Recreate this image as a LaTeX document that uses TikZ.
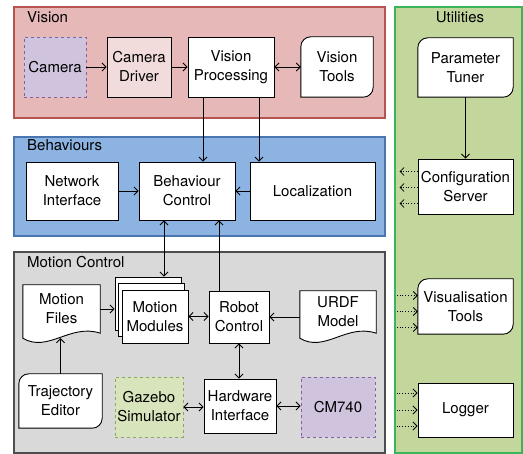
\documentclass[tikz,border=0pt]{standalone}
\usepackage{fontspec}
\setmainfont{TeX Gyre Heros}
\usetikzlibrary{shadows,arrows.meta}
\pgfdeclarelayer{bg}
\pgfdeclarelayer{mid}
\pgfsetlayers{bg,mid,main}
\definecolor{visionfill}{HTML}{E6B8B7}
\definecolor{visionline}{HTML}{B85450}
\definecolor{behavfill}{HTML}{8DB3E2}
\definecolor{behavline}{HTML}{4A76B0}
\definecolor{motionfill}{HTML}{D9D9D9}
\definecolor{motionline}{HTML}{4D4D4D}
\definecolor{utilfill}{HTML}{C3D69B}
\definecolor{utilline}{HTML}{3CB55A}
\definecolor{camfill}{HTML}{CFC3DD}
\definecolor{camline}{HTML}{8064A2}
\definecolor{driverfill}{HTML}{F2DCDB}
\definecolor{gazfill}{HTML}{D8E4BC}
\definecolor{gazline}{HTML}{8AA860}
\begin{document}
\begin{tikzpicture}
[x=1pt,y=-1pt,
 font=\fontsize{15}{19}\selectfont,
 >={Straight Barb[length=4pt,width=8pt]},
 panelstyle/.style={line width=1.2pt},
 boxstyle/.style={draw,fill=white,line width=0.9pt,align=center,inner sep=1pt},
 textstyle/.style={align=center,inner sep=1pt},
 hwstyle/.style={boxstyle,dashed},
 linestyle/.style={line width=0.9pt},
 arrowstyle/.style={line width=0.9pt,->},
 bothstyle/.style={line width=0.9pt,<->},
 dotstyle/.style={line width=0.8pt,dotted,->}]
\useasboundingbox (0,0) rectangle (523,454);
%% panels
\begin{pgfonlayer}{bg}
\draw[panelstyle,draw=visionline,fill=visionfill] (14,7) rectangle (385,118);
\draw[panelstyle,draw=behavline,fill=behavfill] (14,137) rectangle (385,236);
\draw[panelstyle,draw=motionline,fill=motionfill] (14,252) rectangle (385,453);
\draw[panelstyle,draw=utilline,fill=utilfill] (395,7) rectangle (522,453);
\end{pgfonlayer}
\node[anchor=west,inner sep=1pt] (visionlbl) at (26,17) {Vision};
\node[anchor=west,inner sep=1pt] (behavlbl) at (26,145) {Behaviours};
\node[anchor=west,inner sep=1pt] (motionlbl) at (26,262) {Motion Control};
\node[inner sep=1pt] (utillbl) at (460,17) {Utilities};
%% vision
\node[hwstyle,draw=camline,fill=camfill,minimum width=62pt,minimum height=60pt] (camera) at (55,67) {Camera};
\node[boxstyle,fill=driverfill,minimum width=64pt,minimum height=60pt] (driver) at (139,67) {Camera\\Driver};
\node[boxstyle,minimum width=86pt,minimum height=60pt] (vproc) at (231,67) {Vision\\Processing};
\node[textstyle,minimum width=72pt,minimum height=60pt] (vtools) at (337,67) {Vision\\Tools};
%% behaviours
\node[boxstyle,minimum width=92pt,minimum height=58pt] (netif) at (72,191) {Network\\Interface};
\node[boxstyle,minimum width=96pt,minimum height=58pt] (bctrl) at (187,191) {Behaviour\\Control};
\node[boxstyle,minimum width=125pt,minimum height=58pt] (loc) at (312.5,191) {Localization};
%% motion control
\node[textstyle,minimum width=77pt,minimum height=48pt] (mfiles) at (61.5,309) {Motion\\Files};
\node[boxstyle,minimum width=66pt,minimum height=53pt,
      double copy shadow={shadow xshift=-3.5pt,shadow yshift=6.5pt}] (mmod) at (155,316.5) {Motion\\Modules};
\node[boxstyle,minimum width=60pt,minimum height=52pt] (rctrl) at (239,317) {Robot\\Control};
\node[textstyle,minimum width=76pt,minimum height=42pt] (urdf) at (338,312) {URDF\\Model};
\node[textstyle,minimum width=83pt,minimum height=54pt] (trajed) at (60.5,401) {Trajectory\\Editor};
\node[hwstyle,draw=gazline,fill=gazfill,minimum width=68pt,minimum height=60pt] (gazebo) at (149,407) {Gazebo\\Simulator};
\node[boxstyle,minimum width=72pt,minimum height=54pt] (hwif) at (240,406) {Hardware\\Interface};
\node[hwstyle,draw=camline,fill=camfill,minimum width=74pt,minimum height=60pt] (cm740) at (338,407) {CM740};
%% utilities
\node[textstyle,minimum width=95pt,minimum height=59pt] (ptuner) at (465.5,67.5) {Parameter\\Tuner};
\node[boxstyle,minimum width=95pt,minimum height=55pt] (cserv) at (465.5,186.5) {Configuration\\Server};
\node[textstyle,minimum width=95pt,minimum height=55pt] (vistools) at (465.5,306.5) {Visualisation\\Tools};
\node[boxstyle,minimum width=95pt,minimum height=54pt] (logger) at (465.5,410) {Logger};
%% card and document outlines
\begin{pgfonlayer}{mid}
\foreach \n in {vtools,trajed,ptuner,vistools}
  \draw[linestyle,fill=white] (\n.south west) [rounded corners=10pt] -- (\n.north west) [sharp corners] -- (\n.north east) [rounded corners=10pt] -- (\n.south east) [sharp corners] -- (\n.south west) -- cycle;
\foreach \n in {mfiles,urdf}
  \draw[linestyle,fill=white] (\n.north west) -- (\n.north east) -- (\n.south east) .. controls +(-30,-10) and +(25,15) .. ([yshift=-5pt]\n.south west) -- cycle;
\end{pgfonlayer}
%% connectors
\coordinate (mmtop) at ([xshift=9pt,yshift=13pt]mmod.north);
\coordinate (mmleft) at ([xshift=-7pt]mmod.west);
\draw[arrowstyle] (camera.east) -- (driver.west);
\draw[arrowstyle] (driver.east) -- (vproc.west);
\draw[bothstyle] (vproc.east) -- (vtools.west);
\draw[arrowstyle] ([xshift=-28pt]vproc.south) -- ([xshift=-28pt]vproc.south |- bctrl.north);
\draw[arrowstyle] ([xshift=28pt]vproc.south) -- ([xshift=28pt]vproc.south |- loc.north);
\draw[arrowstyle] (netif.east) -- (bctrl.west);
\draw[arrowstyle] (loc.west) -- (bctrl.east);
\draw[bothstyle] (mmtop) -- (mmtop |- bctrl.south);
\draw[arrowstyle] ([xshift=-20pt]rctrl.north) -- ([xshift=-20pt]rctrl.north |- bctrl.south);
\draw[arrowstyle] (mfiles.east) -- (mfiles.east -| mmleft);
\draw[bothstyle] (mmod.east) -- (mmod.east -| rctrl.west);
\draw[arrowstyle] (rctrl.east -| urdf.west) -- (rctrl.east);
\draw[bothstyle] (rctrl.south) -- (rctrl.south |- hwif.north);
\draw[arrowstyle] (trajed.north) -- ([yshift=-5pt]mfiles.south -| trajed.north);
\draw[bothstyle] (gazebo.east) -- (gazebo.east -| hwif.west);
\draw[bothstyle] (hwif.east) -- (hwif.east -| cm740.west);
\draw[arrowstyle] (ptuner.south) -- (cserv.north);
%% dotted links to the utilities
\foreach \dy in {15,-1,-17}
  \draw[dotstyle] ([yshift=\dy pt]cserv.west) -- ++(-18,0);
\foreach \dy in {11,-5,-21}
  \draw[dotstyle] ([yshift=\dy pt]vistools.west) ++(-21,0) -- ++(21,0);
\foreach \dy in {17,0,-16}
  \draw[dotstyle] ([yshift=\dy pt]logger.west) ++(-21,0) -- ++(21,0);
\end{tikzpicture}
\end{document}
